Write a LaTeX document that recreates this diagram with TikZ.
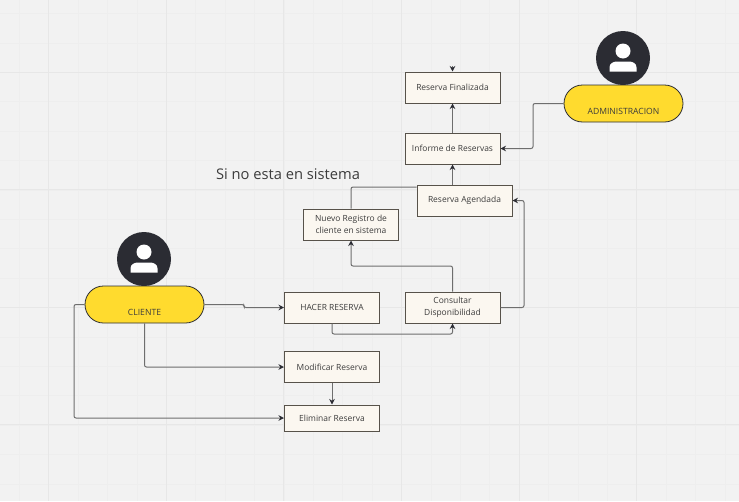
\documentclass[tikz,border=0pt]{standalone}
\usepackage{fontspec}
\setmainfont{Open Sans}
\usepackage{xcolor}
\usetikzlibrary{shapes,shadows,arrows.meta}

\definecolor{boardbg}{HTML}{F2F2F2}
\definecolor{gridminor}{HTML}{EEEEEE}
\definecolor{gridmajor}{HTML}{E7E7E7}
\definecolor{boxfill}{HTML}{FBF7F0}
\definecolor{boxline}{HTML}{57524A}
\definecolor{pillfill}{HTML}{FFDB2E}
\definecolor{iconfill}{HTML}{2B2C33}
\definecolor{linkcol}{HTML}{6E6E6E}
\definecolor{textcol}{HTML}{3C3C3C}

\tikzset{
  stepbox/.style = {draw = boxline, fill = boxfill, line width = 1pt,
    minimum width = 95pt, minimum height = 31pt, inner sep = 1pt,
    align = center, text = textcol, font = \fontsize{8.45}{12.5}\selectfont,
    drop shadow = {shadow xshift = .5pt, shadow yshift = -.8pt, fill = gray, opacity = .7}},
  pill/.style = {rounded rectangle, draw = iconfill, fill = pillfill, line width = .8pt,
    minimum width = 119pt, minimum height = 37pt, inner sep = 0pt,
    text = textcol, font = \fontsize{8.6}{10}\selectfont},
  avatar/.style = {circle, fill = iconfill, minimum size = 54pt, inner sep = 0pt},
  link/.style = {draw = linkcol, line width = 1pt, rounded corners = 2pt},
  linkto/.style = {link, -{Stealth[length = 5.5pt, width = 5.5pt, color = iconfill]}}
}

\begin{document}
\begin{tikzpicture}[x = 1pt, y = -1pt]

\fill[boardbg] (0,0) rectangle (739,501);
\useasboundingbox (0,0) rectangle (739,501);

% board grid
\foreach \i in {0,...,24}
  \draw[gridminor, line width = .8pt] ({19.4 + 29.4*\i},0) -- ({19.4 + 29.4*\i},501);
\foreach \i in {0,...,17}
  \draw[gridminor, line width = .8pt] (0,{13.5 + 29.4*\i}) -- (739,{13.5 + 29.4*\i});
\foreach \i in {0,...,5}
  \draw[gridmajor, line width = 1pt] ({48.6 + 117.6*\i},0) -- ({48.6 + 117.6*\i},501);
\foreach \i in {0,...,3}
  \draw[gridmajor, line width = 1pt] (0,{72 + 117.6*\i}) -- (739,{72 + 117.6*\i});

% steps
\node[stepbox] (fin) at (452.5,87.5) {Reserva Finalizada};
\node[stepbox] (inf) at (452.5,148.5) {Informe de Reservas};
\node[stepbox] (age) at (464.5,200.5) {Reserva Agendada};
\node[stepbox] (reg) at (351,224.5) {Nuevo Registro de\\cliente en sistema};
\node[stepbox] (hac) at (332,307.5) {HACER RESERVA};
\node[stepbox] (con) at (452.5,307.5) {Consultar\\Disponibilidad};
\node[stepbox] (mod) at (332,367) {Modificar Reserva};
\node[stepbox, minimum height = 26pt] (eli) at (332,418) {Eliminar Reserva};

% actors
\node[avatar] (cav) at (144,259) {};
\node[avatar] (aav) at (623,58) {};
\node[pill] (cli) at (144.5,304.5) {\smash{\raisebox{-10.5pt}{CLIENTE}}};
\node[pill] (adm) at (623.5,103.5) {\smash{\raisebox{-10.5pt}{ADMINISTRACION}}};

% person icons
\foreach \a in {cav,aav} {
  \fill[white, shift = {(\a.center)}] (0,-7) circle (7.5pt);
  \fill[white, shift = {(\a.center)}] (-13.5,13.5) -- (-13.5,9.5) .. controls (-13.5,5.5) and (-10,3.5) .. (-6,3.5)
    -- (6,3.5) .. controls (10,3.5) and (13.5,5.5) .. (13.5,9.5) -- (13.5,13.5) -- cycle;
}

\node[text = textcol, font = \fontsize{14.7}{16}\selectfont] (note) at (288,174) {Si no esta en sistema};

\coordinate (top) at (452.5,66);

% connectors
\draw[linkto] (top) -- (fin.north);
\draw[linkto] (inf) -- (fin);
\draw[linkto] (inf.north |- age.north) -- (inf.south);
\draw[link] (age.west |- 0,187) -| (reg.north);
\draw[linkto] (con.north) |- (351,266) -- (reg.south);
\draw[linkto] (con.east) -| (524,200.5) -- (age.east);
\draw[linkto] (hac.south) |- (452.5,334) -- (con.south);
\draw[linkto] (adm.west) -| (533,148.5) -- (inf.east);
\draw[linkto] (cli.east) -- (244,304.5) -- (244,307.5) -- (hac.west);
\draw[linkto] (cli.south) |- (mod.west);
\draw[linkto] (cli.west) -| (74,418) -- (eli.west);
\draw[linkto] (mod) -- (eli);

\end{tikzpicture}
\end{document}
